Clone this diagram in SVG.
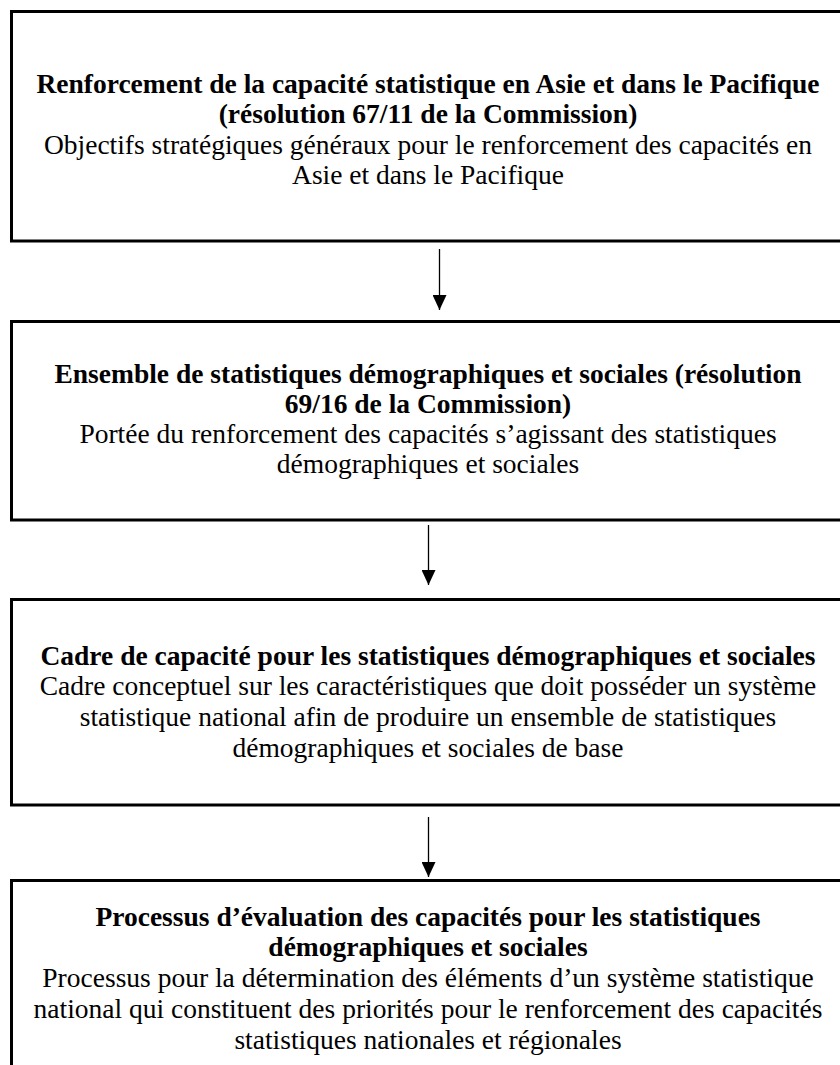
<svg xmlns="http://www.w3.org/2000/svg" width="840" height="1065" viewBox="0 0 840 1065">
<style>
  .box { fill: #ffffff; stroke: #000000; stroke-width: 3; }
  text { font-family: 'Liberation Serif', 'Times New Roman', Times, 'DejaVu Serif', serif; font-size: 27.5px; fill: #000000; text-anchor: middle; }
  .b { font-weight: bold; }
  .conn { stroke: #000000; stroke-width: 1.3; fill: none; }
</style>
<defs>
  <marker id="ah" markerWidth="15" markerHeight="14" refX="15" refY="7" orient="auto" markerUnits="userSpaceOnUse" viewBox="0 0 15 14">
    <path d="M0,0 L15,7 L0,14 Z" fill="#000000"/>
  </marker>
</defs>
<rect width="840" height="1065" fill="#ffffff"/>

<g id="node1">
  <rect class="box" x="11.5" y="11.5" width="834" height="229.5"/>
  <text class="b" x="428" y="93">Renforcement de la capacité statistique en Asie et dans le Pacifique</text>
  <text class="b" x="428" y="123">(résolution 67/11 de la Commission)</text>
  <text x="428" y="154">Objectifs stratégiques généraux pour le renforcement des capacités en</text>
  <text x="428" y="184">Asie et dans le Pacifique</text>
</g>

<g id="node2">
  <rect class="box" x="11.5" y="321.5" width="834" height="198.5"/>
  <text class="b" x="428" y="383">Ensemble de statistiques démographiques et sociales (résolution</text>
  <text class="b" x="428" y="413">69/16 de la Commission)</text>
  <text x="428" y="443">Portée du renforcement des capacités s’agissant des statistiques</text>
  <text x="428" y="473">démographiques et sociales</text>
</g>

<g id="node3">
  <rect class="box" x="11.5" y="599.5" width="834" height="205.5"/>
  <text class="b" x="428" y="665">Cadre de capacité pour les statistiques démographiques et sociales</text>
  <text x="428" y="695">Cadre conceptuel sur les caractéristiques que doit posséder un système</text>
  <text x="428" y="726">statistique national afin de produire un ensemble de statistiques</text>
  <text x="428" y="757">démographiques et sociales de base</text>
</g>

<g id="node4">
  <rect class="box" x="11.5" y="880.5" width="834" height="200"/>
  <text class="b" x="428" y="926">Processus d’évaluation des capacités pour les statistiques</text>
  <text class="b" x="428" y="956">démographiques et sociales</text>
  <text x="428" y="987">Processus pour la détermination des éléments d’un système statistique</text>
  <text x="428" y="1018">national qui constituent des priorités pour le renforcement des capacités</text>
  <text x="428" y="1049">statistiques nationales et régionales</text>
</g>

<g id="connectors">
  <line class="conn" x1="439.5" y1="249" x2="439.5" y2="310" marker-end="url(#ah)"/>
  <line class="conn" x1="428.5" y1="525" x2="428.5" y2="585" marker-end="url(#ah)"/>
  <line class="conn" x1="428.5" y1="817" x2="428.5" y2="877" marker-end="url(#ah)"/>
</g>
</svg>
